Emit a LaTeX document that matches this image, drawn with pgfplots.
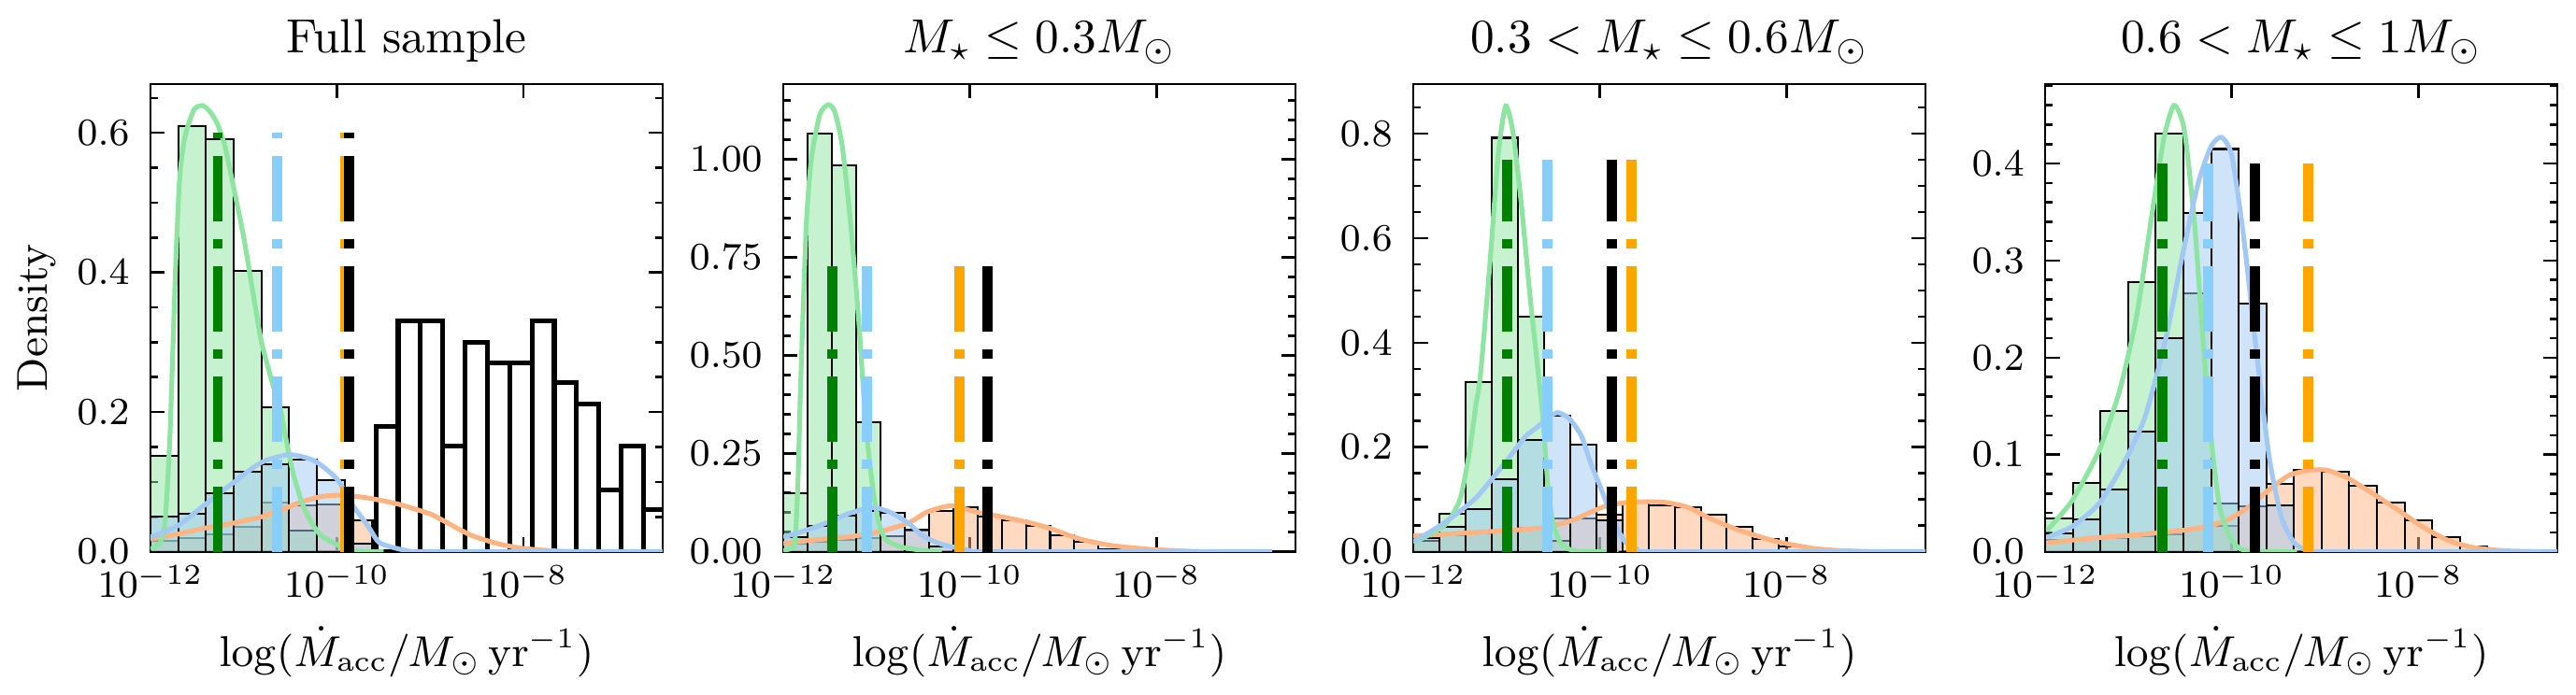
\documentclass[border=0pt]{standalone}
\usepackage{pgfplots}
\pgfplotsset{compat=1.18}

\definecolor{pgreen}{HTML}{8DE5A1}
\definecolor{pblue}{HTML}{A1C9F4}
\definecolor{porange}{HTML}{FFB482}
\definecolor{vgreen}{HTML}{008000}
\definecolor{vblue}{HTML}{87CEFA}
\definecolor{vorange}{HTML}{FFA500}

\pgfplotsset{
  panel/.style={
    scale only axis, width=106.8pt, height=97.6pt, anchor=south west,
    xmin=-12, xmax=-6.51, ymin=0,
    xtick={-12,-10,-8}, xticklabels={$10^{-12}$,$10^{-10}$,$10^{-8}$},
    minor x tick num=0,
    tick align=inside, xtick pos=both, ytick pos=both,
    major tick length=3pt, minor tick length=1.5pt,
    every tick/.style={black, line width=0.5pt},
    axis line style={line width=0.5pt},
    scaled y ticks=false,
    yticklabel style={font=\fontsize{8}{9.6}\selectfont, inner sep=0pt, xshift=-4.2pt,
      /pgf/number format/fixed, /pgf/number format/fixed zerofill, /pgf/number format/precision=1},
    xticklabel style={font=\fontsize{8}{9.6}\selectfont, inner sep=0pt, anchor=base, yshift=-9.6pt},
    title style={at={(axis description cs:0.5,1.0666)}, anchor=base, yshift=-6pt, inner sep=0pt, font=\fontsize{10}{12}\selectfont},
    xlabel={$\log(\dot{M}_{\mathrm{acc}}/M_\odot\,\mathrm{yr}^{-1})$},
    xlabel style={at={(axis description cs:0.5,-0.2449)}, anchor=base, inner sep=0pt, font=\fontsize{9}{10.8}\selectfont},
  },
  hist/.style={ybar interval, fill=#1, fill opacity=0.5, draw=black, line width=0.4pt},
  kde/.style={no marks, smooth, tension=0.4, color=#1, line width=1pt},
  vmed/.style={no marks, color=#1, line width=2.1pt, dash pattern=on 13.6pt off 3.7pt on 2pt off 3.7pt},
}

\begin{document}
\begin{tikzpicture}
\useasboundingbox (0,0) rectangle (537.2pt,145.0pt);

% ---------------- full sample
\begin{axis}[panel, at={(31.38pt,29.88pt)}, ymax=0.670,
  ytick={0,0.2,0.4,0.6}, minor ytick={0.05,0.1,...,0.66},
  title={Full sample},
  ylabel={Density},
  ylabel style={at={(axis description cs:-0.2013,0.5)}, anchor=base, inner sep=0pt, font=\fontsize{9}{10.8}\selectfont}]
\addplot[hist=porange] coordinates {(-12.0,0.015) (-11.7025,0.02) (-11.405,0.025) (-11.1075,0.035) (-10.81,0.07) (-10.5125,0.067) (-10.215,0.068) (-9.9175,0.045) (-9.62,0)};
\addplot[hist=pgreen] coordinates {(-12.0,0.137) (-11.7025,0.609) (-11.405,0.591) (-11.1075,0.402) (-10.81,0.207) (-10.5125,0.03) (-10.215,0)};
\addplot[hist=pblue] coordinates {(-12.0,0.05) (-11.7025,0.054) (-11.405,0.084) (-11.1075,0.114) (-10.81,0.125) (-10.5125,0.132) (-10.215,0.102) (-9.9175,0.012) (-9.62,0)};
\addplot[ybar interval, fill=none, draw=black, line width=1pt] coordinates {(-9.584,0.180) (-9.345,0.331) (-9.106,0.331) (-8.867,0.151) (-8.628,0.300) (-8.389,0.27) (-8.150,0.27) (-7.911,0.331) (-7.672,0.242) (-7.433,0.211) (-7.194,0.089) (-6.955,0.151) (-6.716,0.060) (-6.477,0)};
\addplot[kde=porange] coordinates {(-12.0,0.018) (-11.71,0.025) (-11.41,0.034) (-11.11,0.041) (-10.81,0.05) (-10.61,0.059) (-10.41,0.070) (-10.17,0.079) (-9.94,0.081) (-9.67,0.077) (-9.34,0.068) (-9.0,0.054) (-8.84,0.043) (-8.57,0.024) (-8.29,0.012) (-8.02,0.005) (-7.65,0.001) (-7.3,0)};
\addplot[kde=pgreen] coordinates {(-12.0,0.004) (-11.9,0.012) (-11.85,0.035) (-11.82,0.09) (-11.79,0.17) (-11.76,0.29) (-11.73,0.41) (-11.69,0.53) (-11.65,0.58) (-11.61,0.605) (-11.53,0.634) (-11.44,0.639) (-11.36,0.63) (-11.28,0.612) (-11.2,0.58) (-11.11,0.523) (-11.0,0.45) (-10.9,0.37) (-10.81,0.30) (-10.7,0.245) (-10.6,0.2) (-10.56,0.17) (-10.47,0.112) (-10.37,0.068) (-10.27,0.041) (-10.17,0.023) (-10.0,0.01) (-9.9,0.003) (-9.7,0) (-9.5,0)};
\addplot[kde=pblue] coordinates {(-12.0,0.021) (-11.71,0.037) (-11.41,0.068) (-11.11,0.099) (-10.81,0.128) (-10.51,0.139) (-10.24,0.130) (-10.0,0.104) (-9.84,0.068) (-9.67,0.037) (-9.57,0.016) (-9.5,0.01) (-9.27,0.002) (-9.0,0) (-6.51,0)};
\addplot[vmed=vgreen] coordinates {(-11.278,0) (-11.278,0.6)};
\addplot[vmed=vblue] coordinates {(-10.646,0) (-10.646,0.6)};
\addplot[vmed=vorange] coordinates {(-9.907,0) (-9.907,0.6)};
\addplot[vmed=black] coordinates {(-9.874,0) (-9.874,0.6)};
\end{axis}

% ---------------- M <= 0.3
\begin{axis}[panel, at={(163.35pt,29.88pt)}, ymax=1.192,
  ytick={0,0.25,0.5,0.75,1}, minor ytick={0.05,0.1,...,1.16},
  yticklabel style={/pgf/number format/precision=2},
  title={$M_\star \leq 0.3M_\odot$}]
\addplot[hist=porange] coordinates {(-12,0.02) (-11.74,0.025) (-11.48,0.03) (-11.22,0.035) (-10.96,0.04) (-10.70,0.055) (-10.44,0.103) (-10.18,0.113) (-9.92,0.09) (-9.66,0.08) (-9.40,0.065) (-9.14,0.041) (-8.88,0.025) (-8.62,0.006) (-8.36,0)};
\addplot[hist=pgreen] coordinates {(-12,0.149) (-11.74,1.065) (-11.48,0.985) (-11.22,0.329) (-10.96,0)};
\addplot[hist=pblue] coordinates {(-12,0.037) (-11.74,0.065) (-11.48,0.093) (-11.22,0.105) (-10.96,0.099) (-10.70,0.057) (-10.44,0.014) (-10.18,0)};
\addplot[kde=porange] coordinates {(-12,0.021) (-11.67,0.03) (-11.33,0.037) (-11.0,0.049) (-10.66,0.073) (-10.46,0.101) (-10.2,0.117) (-9.93,0.101) (-9.66,0.089) (-9.4,0.076) (-9.16,0.061) (-8.83,0.033) (-8.49,0.016) (-8.16,0.008) (-7.99,0.005) (-7.6,0.001) (-7.3,0)};
\addplot[kde=pgreen] coordinates {(-12,0.003) (-11.92,0.008) (-11.88,0.02) (-11.86,0.08) (-11.84,0.2) (-11.82,0.38) (-11.79,0.6) (-11.75,0.85) (-11.70,1.0) (-11.61,1.113) (-11.52,1.139) (-11.45,1.122) (-11.37,1.037) (-11.28,0.84) (-11.19,0.584) (-11.115,0.32) (-11.03,0.144) (-10.965,0.065) (-10.9,0.03) (-10.73,0.012) (-10.5,0.003) (-10.3,0)};
\addplot[kde=pblue] coordinates {(-12,0.037) (-11.75,0.055) (-11.5,0.077) (-11.3,0.097) (-11.05,0.113) (-10.85,0.1) (-10.66,0.073) (-10.5,0.04) (-10.33,0.021) (-10.18,0.012) (-10.0,0.003) (-9.8,0) (-6.76,0)};
\addplot[vmed=vgreen] coordinates {(-11.473,0) (-11.473,0.73)};
\addplot[vmed=vblue] coordinates {(-11.106,0) (-11.106,0.73)};
\addplot[vmed=vorange] coordinates {(-10.11,0) (-10.11,0.73)};
\addplot[vmed=black] coordinates {(-9.81,0) (-9.81,0.73)};
\end{axis}

% ---------------- 0.3 < M <= 0.6
\begin{axis}[panel, at={(294.74pt,29.88pt)}, ymax=0.895,
  ytick={0,0.2,0.4,0.6,0.8}, minor ytick={0.05,0.1,...,0.86},
  title={$0.3 < M_\star \leq 0.6M_\odot$}]
\addplot[hist=porange] coordinates {(-12,0.03) (-11.72,0.032) (-11.44,0.035) (-11.16,0.038) (-10.88,0.045) (-10.60,0.064) (-10.32,0.064) (-10.04,0.07) (-9.76,0.094) (-9.48,0.088) (-9.20,0.085) (-8.92,0.070) (-8.64,0.047) (-8.36,0.025) (-8.08,0.010) (-7.80,0.003) (-7.52,0)};
\addplot[hist=pgreen] coordinates {(-12,0.02) (-11.72,0.073) (-11.44,0.325) (-11.16,0.792) (-10.88,0.449) (-10.60,0.02) (-10.32,0)};
\addplot[hist=pblue] coordinates {(-12,0.026) (-11.72,0.048) (-11.44,0.082) (-11.16,0.138) (-10.88,0.214) (-10.60,0.26) (-10.32,0.204) (-10.04,0.06) (-9.76,0)};
\addplot[kde=porange] coordinates {(-12,0.03) (-11.33,0.037) (-10.66,0.045) (-10.33,0.058) (-10.13,0.073) (-9.93,0.088) (-9.66,0.095) (-9.33,0.095) (-9.06,0.085) (-8.79,0.061) (-8.49,0.04) (-8.16,0.022) (-7.99,0.015) (-7.7,0.006) (-7.4,0.002) (-7.0,0)};
\addplot[kde=pgreen] coordinates {(-12,0.017) (-11.67,0.05) (-11.5,0.1) (-11.4,0.19) (-11.33,0.28) (-11.28,0.34) (-11.18,0.55) (-11.09,0.76) (-11.01,0.853) (-10.93,0.80) (-10.84,0.66) (-10.75,0.49) (-10.66,0.34) (-10.61,0.252) (-10.56,0.132) (-10.51,0.061) (-10.43,0.019) (-10.33,0.005) (-10.2,0) (-9.8,0)};
\addplot[kde=pblue] coordinates {(-12,0.019) (-11.67,0.055) (-11.33,0.103) (-11.0,0.174) (-10.8,0.22) (-10.66,0.24) (-10.55,0.258) (-10.45,0.266) (-10.33,0.255) (-10.2,0.222) (-10.1,0.17) (-10.0,0.126) (-9.86,0.061) (-9.73,0.019) (-9.6,0.005) (-9.45,0) (-6.51,0)};
\addplot[vmed=vgreen] coordinates {(-10.995,0) (-10.995,0.75)};
\addplot[vmed=vblue] coordinates {(-10.567,0) (-10.567,0.75)};
\addplot[vmed=vorange] coordinates {(-9.66,0) (-9.66,0.75)};
\addplot[vmed=black] coordinates {(-9.869,0) (-9.869,0.75)};
\end{axis}

% ---------------- 0.6 < M <= 1
\begin{axis}[panel, at={(426.51pt,29.88pt)}, ymax=0.482,
  ytick={0,0.1,0.2,0.3,0.4}, minor ytick={0.02,0.04,...,0.47},
  title={$0.6 < M_\star \leq 1M_\odot$}]
\addplot[hist=porange] coordinates {(-12,0.012) (-11.7037,0.013) (-11.4074,0.014) (-11.1111,0.016) (-10.8148,0.018) (-10.5185,0.024) (-10.2222,0.027) (-9.9259,0.047) (-9.6296,0.070) (-9.3333,0.084) (-9.037,0.082) (-8.7407,0.068) (-8.4444,0.051) (-8.1481,0.032) (-7.8518,0.015) (-7.5555,0.005) (-7.2592,0)};
\addplot[hist=pgreen] coordinates {(-12,0.034) (-11.7037,0.071) (-11.4074,0.145) (-11.1111,0.278) (-10.8148,0.431) (-10.5185,0.266) (-10.2222,0.05) (-9.9259,0)};
\addplot[hist=pblue] coordinates {(-12,0.019) (-11.7037,0.033) (-11.4074,0.064) (-11.1111,0.124) (-10.8148,0.220) (-10.5185,0.349) (-10.2222,0.415) (-9.9259,0.256) (-9.6296,0.048) (-9.3333,0)};
\addplot[kde=porange] coordinates {(-11.98,0.009) (-11.51,0.014) (-11.07,0.017) (-10.53,0.022) (-10.27,0.026) (-10.04,0.033) (-9.82,0.046) (-9.6,0.064) (-9.38,0.079) (-9.16,0.084) (-8.98,0.084) (-8.76,0.076) (-8.49,0.06) (-8.22,0.043) (-7.96,0.026) (-7.69,0.012) (-7.42,0.0045) (-7.07,0.001) (-6.62,0)};
\addplot[kde=pgreen] coordinates {(-11.98,0.022) (-11.71,0.053) (-11.42,0.105) (-11.2,0.167) (-11.02,0.243) (-10.87,0.339) (-10.73,0.425) (-10.62,0.46) (-10.51,0.435) (-10.4,0.339) (-10.31,0.219) (-10.22,0.115) (-10.13,0.046) (-10.02,0.015) (-9.91,0.003) (-9.73,0) (-9.3,0)};
\addplot[kde=pblue] coordinates {(-11.98,0.015) (-11.71,0.026) (-11.42,0.05) (-11.16,0.091) (-10.93,0.139) (-10.71,0.219) (-10.53,0.305) (-10.36,0.38) (-10.22,0.418) (-10.11,0.427) (-10.0,0.408) (-9.87,0.322) (-9.73,0.201) (-9.6,0.098) (-9.47,0.036) (-9.33,0.009) (-9.2,0.002) (-9.0,0) (-6.51,0)};
\addplot[vmed=vgreen] coordinates {(-10.742,0) (-10.742,0.4)};
\addplot[vmed=vblue] coordinates {(-10.253,0) (-10.253,0.4)};
\addplot[vmed=vorange] coordinates {(-9.178,0) (-9.178,0.4)};
\addplot[vmed=black] coordinates {(-9.751,0) (-9.751,0.4)};
\end{axis}
\end{tikzpicture}
\end{document}
